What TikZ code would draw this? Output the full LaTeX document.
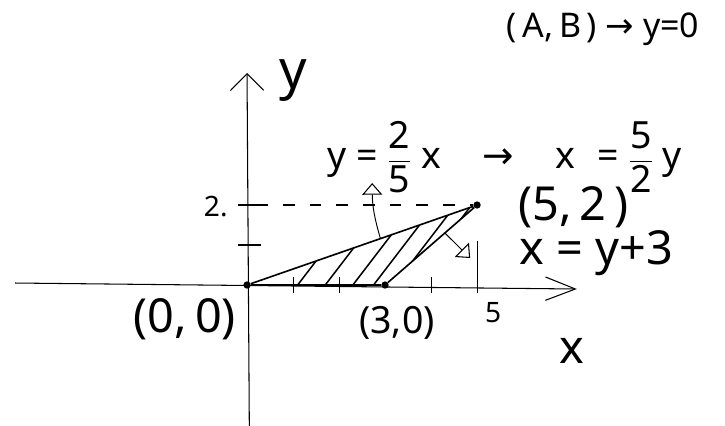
\documentclass[tikz,border=0pt]{standalone}
\usepackage{amsmath}
\usepackage{fontspec}
\setmainfont{Noto Sans}
\newfontfamily\arrowfont{DejaVu Sans}
\usetikzlibrary{arrows, arrows.meta}
\usetikzlibrary{calc}

\begin{document}
\begin{tikzpicture}[x=1.38cm, y=1.2cm,
    pt/.style={circle, fill, inner sep=0pt, minimum size=2.2mm},
    lbl/.style={inner sep=1pt, font=\fontsize{40}{42}\selectfont},
    sml/.style={inner sep=1pt, font=\fontsize{24}{26}\selectfont},
    tick/.style={line width=0.9pt},
    note/.style={line width=0.8pt, -{Triangle[open, length=3.5mm, width=6mm, line width=0.9pt]}}]
  \useasboundingbox (-5.37,-3.5) rectangle (10.39,7.125);

  \coordinate (xl) at (-5.04,0.05);
  \coordinate (xr) at (7.17,-0.1);
  \coordinate (yb) at (0.05,-3.6);
  \coordinate (yt) at (0,5.3);
  \draw[line width=0.9pt, -{Straight Barb[length=9mm, width=7mm, line width=0.9pt]}] (xl) -- (xr);
  \draw[line width=0.9pt, -{Straight Barb[length=5mm, width=10mm, line width=0.9pt]}] (yb) -- (yt);

  \foreach \i in {1,2,4} \draw[tick] (\i,-0.2) -- (\i,0.2);
  \draw[tick] (5,-0.2) -- (5,1.1);
  \draw[tick] (-0.2,1) -- (0.3,1);
  \draw[tick] (-0.2,2) -- (0.2,2);

  \node[pt] (O) at (0,0) {};
  \node[pt] (A) at (3,0) {};
  \node[pt] (B) at (5,2) {};

  \draw[line width=0.9pt, dash pattern=on 3.5mm off 4.5mm] (0.2,2) -- (B);

  \begin{scope}
    \clip (0,0) -- (5,2) -- (3,0) -- cycle;
    \foreach \s in {1.1,1.7,2.3,2.75,3.2,3.55}
      \draw[line width=1.3pt] (\s,0) -- ++(2,3);
  \end{scope}
  \draw[line width=1.4pt] (O) -- (B) -- (A) -- (O);

  \coordinate (e1) at ($(O)!0.58!(B)$);
  \coordinate (e2) at ($(A)!0.65!(B)$);
  \coordinate (t1) at (2.72,2.55);
  \coordinate (t2) at (4.85,0.675);
  \draw[note] (e1) to[bend left=8] (t1);
  \draw[note] (e2) -- (t2);

  \node[lbl] (lo) at (-1.35,-0.85) {(0,\,0)};
  \node[lbl, font=\fontsize{32}{34}\selectfont] (la) at (3.26,-0.95) {(3,0)};
  \node[lbl] (lb) at (7.1,1.95) {(5,\,2\,)};
  \node[lbl] (lr) at (7.6,0.8) {x = y+3};
  \node[sml] (l5) at (5.35,-0.7) {5};
  \node[sml] (l2) at (-0.68,1.95) {2.};
  \node[lbl] (xlab) at (7.07,-1.65) {x};
  \node[inner sep=1pt, font=\fontsize{46}{48}\selectfont] (ylab) at (1.0,5.1) {y};
  \node[inner sep=1pt, font=\fontsize{32}{34}\selectfont] (eq) at (5.6,3.2)
    {y = $\dfrac{\text{2}}{\text{5}}$ x\hspace{1.1em}{\arrowfont →}\hspace{1.1em}x\hspace{0.6em}= $\dfrac{\text{5}}{\text{2}}$ y};
  \node[inner sep=1pt, font=\fontsize{29}{31}\selectfont] (ab) at (7.74,6.4) {(\,A,\,B\,) {\arrowfont →} y=0};
\end{tikzpicture}
\end{document}
